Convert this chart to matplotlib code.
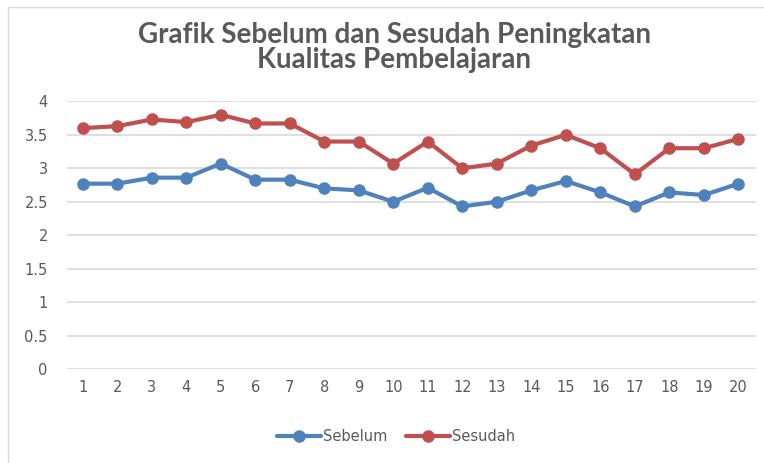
import matplotlib
matplotlib.use('Agg')
import matplotlib.pyplot as plt
from matplotlib.patches import Rectangle

# data
pertemuan = list(range(1, 21))
sebelum = [2.77, 2.77, 2.86, 2.86, 3.07, 2.83, 2.83, 2.70, 2.67, 2.50,
           2.71, 2.43, 2.50, 2.67, 2.81, 2.64, 2.43, 2.64, 2.60, 2.77]
sesudah = [3.60, 3.63, 3.73, 3.69, 3.80, 3.67, 3.67, 3.40, 3.40, 3.07,
           3.40, 3.00, 3.07, 3.34, 3.50, 3.30, 2.91, 3.30, 3.30, 3.44]
yticks = [0, 0.5, 1, 1.5, 2, 2.5, 3, 3.5, 4]

grey = '#595959'
fig = plt.figure(figsize=(7.64, 4.63), dpi=100)
ax = fig.add_axes([0.088, 0.203, 0.901, 0.578])

ax.plot(pertemuan, sebelum, color='#4F81BD', lw=3, marker='o', ms=8,
        label='Sebelum', solid_capstyle='round')
ax.plot(pertemuan, sesudah, color='#C0504D', lw=3, marker='o', ms=8,
        label='Sesudah', solid_capstyle='round')

ax.set_ylim(0, 4)
ax.set_xlim(0.55, 20.5)
ax.set_yticks(yticks)
ax.set_yticklabels([('%g' % v) for v in yticks])
ax.set_xticks(pertemuan)
ax.tick_params(length=0, labelsize=10.5, colors=grey, pad=8)
ax.tick_params(axis='y', pad=14)
ax.grid(axis='y', color='#d9d9d9', lw=1.2)
ax.set_axisbelow(True)
for s in ax.spines.values():
    s.set_visible(False)

fig.text(0.516, 0.897, 'Grafik Sebelum dan Sesudah Peningkatan\nKualitas Pembelajaran',
         ha='center', va='center', fontsize=20, fontweight='bold', color=grey,
         family='Lato', linespacing=0.95)

leg = ax.legend(loc='upper center', bbox_to_anchor=(0.478, -0.175), ncol=2,
                frameon=False, fontsize=10.5, handlelength=3.0, handletextpad=0.15,
                columnspacing=1.3)
for t in leg.get_texts():
    t.set_color(grey)

fig.patches.append(Rectangle((0.011, -0.02), 1.2, 1.005, transform=fig.transFigure,
                             fill=False, edgecolor='#d9d9d9', lw=1))

fig.savefig('out.png', dpi=100)
